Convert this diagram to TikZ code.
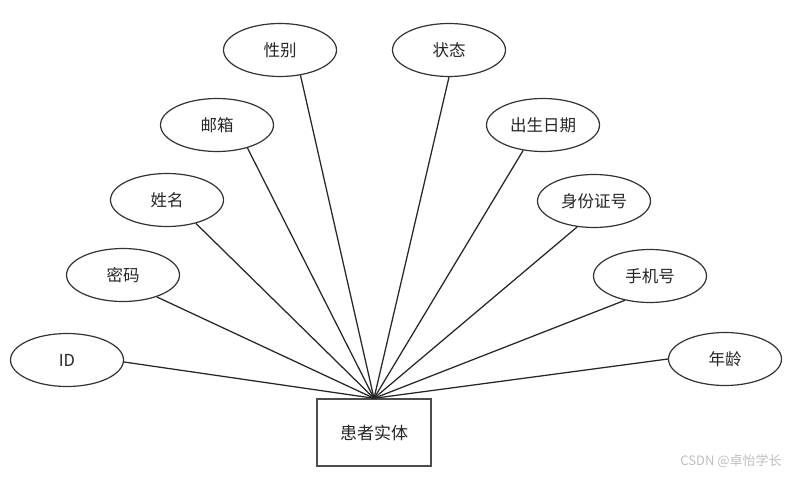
\documentclass[tikz,border=0pt]{standalone}
\usepackage{fontspec}
\setmainfont{Noto Sans CJK SC}
\usetikzlibrary{shapes.geometric}
\begin{document}
\begin{tikzpicture}[x=1pt,y=-1pt,
  attr/.style={ellipse,draw=black!80,line width=1.2pt,minimum width=113pt,minimum height=53pt,inner sep=0pt,font=\fontsize{16.5}{19}\selectfont,text=black!85},
  ent/.style={rectangle,draw=black!70,line width=1.4pt,minimum width=114pt,minimum height=67pt,inner sep=0pt,font=\fontsize{17}{19}\selectfont,text=black!85},
  link/.style={draw=black!85,line width=1.25pt}]
\useasboundingbox (0,0) rectangle (802,476);
\fill[white] (0,0) rectangle (802,476);
\node[ent] (e) at (374,432.5) {患者实体};
\node[attr] (id) at (67,360) {ID};
\node[attr] (mm) at (123,275) {密码};
\node[attr] (xm) at (167,200) {姓名};
\node[attr] (yx) at (217,125) {邮箱};
\node[attr] (xb) at (280,50) {性别};
\node[attr] (zt) at (449,50) {状态};
\node[attr] (cs) at (543,125) {出生日期};
\node[attr] (sf) at (594,201) {身份证号};
\node[attr] (sj) at (650,276) {手机号};
\node[attr] (nl) at (725,359) {年龄};
\draw[link] (id.-2) -- (e.north);
\draw[link] (mm.-33) -- (e.north);
\draw[link] (xm.-39) -- (e.north);
\draw[link] (yx.-37) -- (e.north);
\draw[link] (xb.-51) -- (e.north);
\draw[link] (zt.-90) -- (e.north);
\draw[link] (cs.-128) -- (e.north);
\draw[link] (sf.-123) -- (e.north);
\draw[link] (sj.-136) -- (e.north);
\draw[link] (nl.west) -- (e.north);
\node[text=black!25,font=\fontsize{13}{15}\selectfont,inner sep=0pt] (wm) at (731,461) {CSDN @卓怡学长};
\end{tikzpicture}
\end{document}
